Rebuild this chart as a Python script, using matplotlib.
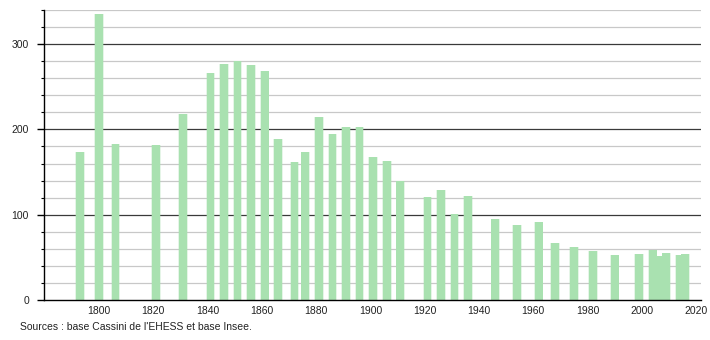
import matplotlib
matplotlib.use("Agg")
import matplotlib.pyplot as plt
from matplotlib.ticker import MultipleLocator, FixedLocator

plt.rcParams['font.family'] = ['Liberation Sans', 'DejaVu Sans']

years = [1793, 1800, 1806, 1821, 1831, 1841, 1846, 1851, 1856, 1861, 1866,
         1872, 1876, 1881, 1886, 1891, 1896, 1901, 1906, 1911, 1921, 1926,
         1931, 1936, 1946, 1954, 1962, 1968, 1975, 1982, 1990, 1999, 2004,
         2006, 2009, 2014, 2016]
population = [173, 335, 183, 182, 218, 266, 277, 280, 275, 269, 189,
              162, 173, 214, 195, 203, 203, 168, 163, 140, 121, 129,
              101, 122, 95, 88, 91, 67, 62, 58, 53, 54, 59,
              52, 55, 53, 54]
x_ticks = [1800, 1820, 1840, 1860, 1880, 1900, 1920, 1940, 1960, 1980, 2000, 2020]
y_ticks = [0, 100, 200, 300]
source_text = "Sources : base Cassini de l'EHESS et base Insee."

W, H = 710, 340
fig = plt.figure(figsize=(W / 100, H / 100), dpi=100)
ax = fig.add_axes([44.3 / W, 1 - 300 / H, (701 - 44.3) / W, 290 / H])

bar_color = '#a9e1b0'
# soft halo then core
ax.bar(years, population, width=3.5, color=bar_color, alpha=0.3, linewidth=0, zorder=3)
ax.bar(years, population, width=2.84, color=bar_color, linewidth=0, zorder=4)

ax.set_xlim(1779.8, 2021.8)
ax.set_ylim(0, 340)

ax.yaxis.set_major_locator(FixedLocator(y_ticks))
ax.yaxis.set_minor_locator(MultipleLocator(20))
ax.xaxis.set_major_locator(FixedLocator(x_ticks))

for v in range(20, 341, 20):
    if v % 100 == 0:
        ax.axhline(v, color='#3a3a3a', linewidth=0.9, zorder=1)
    else:
        ax.axhline(v, color='#c8c8c8', linewidth=0.9, zorder=1)

for s in ['top', 'right']:
    ax.spines[s].set_visible(False)
for s in ['left', 'bottom']:
    ax.spines[s].set_color('black')
    ax.spines[s].set_linewidth(1.0)
    ax.spines[s].set_zorder(5)

ax.tick_params(axis='y', which='major', length=5, width=1, color='black',
               labelsize=7.5, pad=6, labelcolor='#222222')
ax.tick_params(axis='y', which='minor', length=2, width=0.8, color='black')
ax.tick_params(axis='x', which='major', length=0, labelsize=7.5, pad=4,
               labelcolor='#222222')

fig.text(20 / W, 1 - 327 / H, source_text, fontsize=7.5, va='center',
         ha='left', color='#222222')

fig.savefig('out.png', dpi=100, facecolor='white')
